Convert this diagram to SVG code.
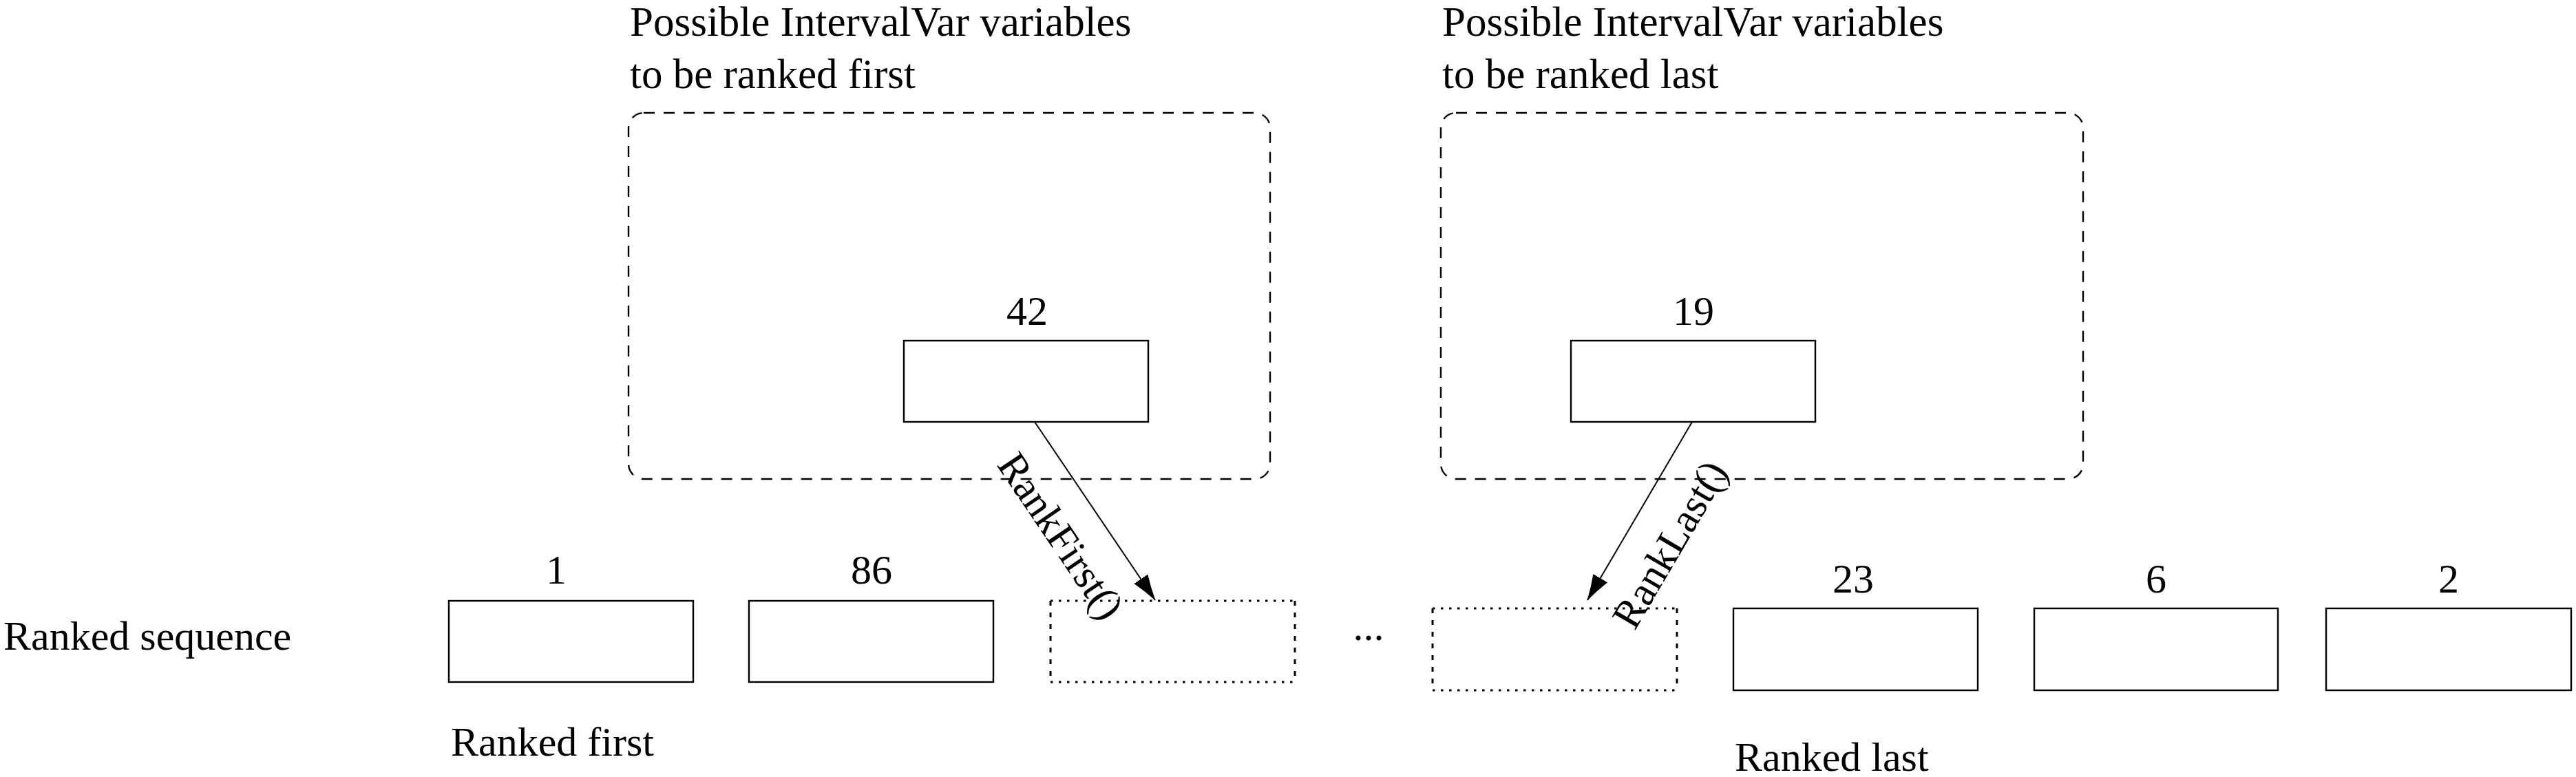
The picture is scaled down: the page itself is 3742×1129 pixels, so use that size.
<svg xmlns="http://www.w3.org/2000/svg" width="3742" height="1129" viewBox="0 0 3742 1129">
<style>
text{font-family:"Liberation Serif","Times New Roman",serif;font-size:60px;fill:#000}
.t{font-size:61px}
.c{text-anchor:middle}
.box{fill:none;stroke:#000;stroke-width:2.4}
.dash{fill:none;stroke:#000;stroke-width:2.4;stroke-dasharray:16 13}
.doth{fill:none;stroke:#000;stroke-width:3;stroke-dasharray:3.5 8.5}
.dotv{fill:none;stroke:#000;stroke-width:3;stroke-dasharray:7 10}
.edge{fill:none;stroke:#000;stroke-width:2}
</style>
<defs>
<marker id="arr" viewBox="0 0 38 26" refX="37" refY="13" markerWidth="38" markerHeight="26" orient="auto" markerUnits="userSpaceOnUse">
<path d="M0,1 Q18,8 38,13 Q18,18 0,25 Z" fill="#000"/>
</marker>
</defs>
<rect width="3742" height="1129" fill="#fff"/>

<g id="pool-first">
<text class="t" x="915" y="52">Possible IntervalVar variables</text>
<text class="t" x="915" y="128">to be ranked first</text>
<rect class="dash" x="913" y="164" width="932" height="532" rx="22"/>
</g>
<g id="pool-last">
<text class="t" x="2095" y="52">Possible IntervalVar variables</text>
<text class="t" x="2095" y="128">to be ranked last</text>
<rect class="dash" x="2093" y="164" width="933" height="532" rx="22"/>
</g>

<g id="var-42">
<text class="c" x="1492" y="472">42</text>
<rect class="box" x="1313" y="495" width="355" height="118"/>
</g>
<g id="var-19">
<text class="c" x="2460" y="472">19</text>
<rect class="box" x="2282" y="495" width="355" height="118"/>
</g>

<g id="label-seq"><text x="5" y="944">Ranked sequence</text></g>
<g id="label-first"><text x="655" y="1098">Ranked first</text></g>
<g id="label-last"><text x="2520" y="1120">Ranked last</text></g>

<g id="seq-1">
<text class="c" x="808" y="848">1</text>
<rect class="box" x="652" y="873" width="355" height="118"/>
</g>
<g id="seq-86">
<text class="c" x="1266" y="848">86</text>
<rect class="box" x="1088" y="873" width="355" height="118"/>
</g>
<g id="slot-first">
<path class="doth" d="M1526,873 H1881 M1526,991 H1881"/>
<path class="dotv" d="M1526,873 V991 M1881,873 V991"/>
</g>
<g id="ellipsis"><text class="c" x="1988" y="930">...</text></g>
<g id="slot-last">
<path class="doth" d="M2081,884 H2436 M2081,1003 H2436"/>
<path class="dotv" d="M2081,884 V1003 M2436,884 V1003"/>
</g>
<g id="seq-23">
<text class="c" x="2692" y="861">23</text>
<rect class="box" x="2518" y="884" width="355" height="119"/>
</g>
<g id="seq-6">
<text class="c" x="3132" y="861">6</text>
<rect class="box" x="2955" y="884" width="354" height="119"/>
</g>
<g id="seq-2">
<text class="c" x="3557" y="861">2</text>
<rect class="box" x="3379" y="884" width="356" height="119"/>
</g>

<g id="connectors">
<line class="edge" x1="1503" y1="613" x2="1678" y2="872" marker-end="url(#arr)"/>
<text class="c" transform="translate(1590,742) rotate(55.9)" x="3" y="81">RankFirst()</text>
<line class="edge" x1="2458" y1="613" x2="2306" y2="872" marker-end="url(#arr)"/>
<text class="c" transform="translate(2372,748) rotate(-59.6)" x="-10" y="88">RankLast()</text>
</g>
</svg>
